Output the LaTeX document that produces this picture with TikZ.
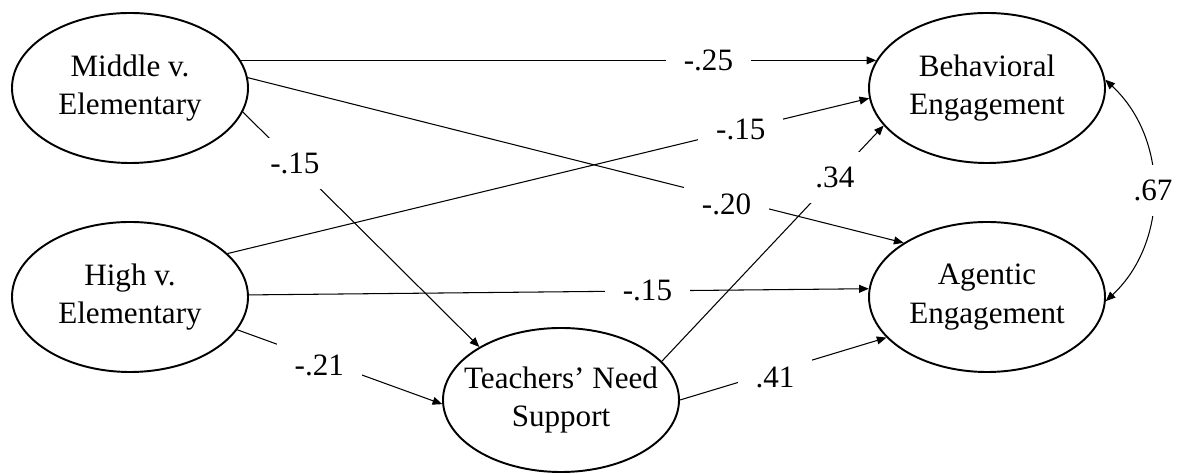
\documentclass[tikz,border=0pt]{standalone}
\usepackage{fontspec}
\setmainfont{Liberation Serif}
\usetikzlibrary{shapes.geometric,arrows.meta}
\begin{document}
\begin{tikzpicture}[>={Triangle[length=5.5pt,width=4.5pt]},line join=round,
    font=\fontsize{17.7}{22}\selectfont,
    var/.style={ellipse,draw,line width=1.1pt,minimum width=4.72cm,minimum height=3cm,
        inner xsep=-0.35cm,inner ysep=0pt,align=center},
    conn/.style={->,line width=0.6pt},
    coef/.style={fill=white,inner xsep=0.36cm,inner ysep=0.3cm}]
    \useasboundingbox (0,0) rectangle (23.74,9.48);
    %\draw[help lines] (0,0) grid (24,10);
    % predictors
    \node[var] (mid) at (2.6,7.72) {Middle v.\\Elementary};
    \node[var] (high) at (2.6,3.54) {High v.\\Elementary};
    % mediator
    \node[var,minimum height=2.88cm] (tns) at (11.22,1.48) {Teachers’ Need\\Support};
    % outcomes
    \node[var] (beh) at (19.74,7.72) {Behavioral\\Engagement};
    \node[var] (agen) at (19.74,3.54) {Agentic\\Engagement};
    % paths
    \draw[conn] (mid.14) -- node[coef,pos=.736]{-.25} (beh.166);
    \draw[conn] (mid.5) -- node[coef,pos=.73,yshift=-0.12cm]{-.20} (agen.147);
    \draw[conn] (mid.-12) -- node[coef,pos=.22]{-.15} (tns.147);
    \draw[conn] (high.24) -- node[coef,pos=.8]{-.15} (beh.185);
    \draw[conn] (high.1) -- node[coef,pos=.643]{-.15} (agen.176);
    \draw[conn] (high.-17) -- node[coef,pos=.4,yshift=-0.12cm]{-.21} (tns.182);
    \draw[conn] (tns.21) -- node[coef,pos=.78]{.34} (beh.200);
    \draw[conn] (tns.0) -- node[coef,pos=.46,yshift=-0.12cm]{.41} (agen.202);
    % correlation
    \draw[conn,<->] (agen.-2) to[bend right=47] node[coef]{.67} (beh.4);
\end{tikzpicture}
\end{document}
